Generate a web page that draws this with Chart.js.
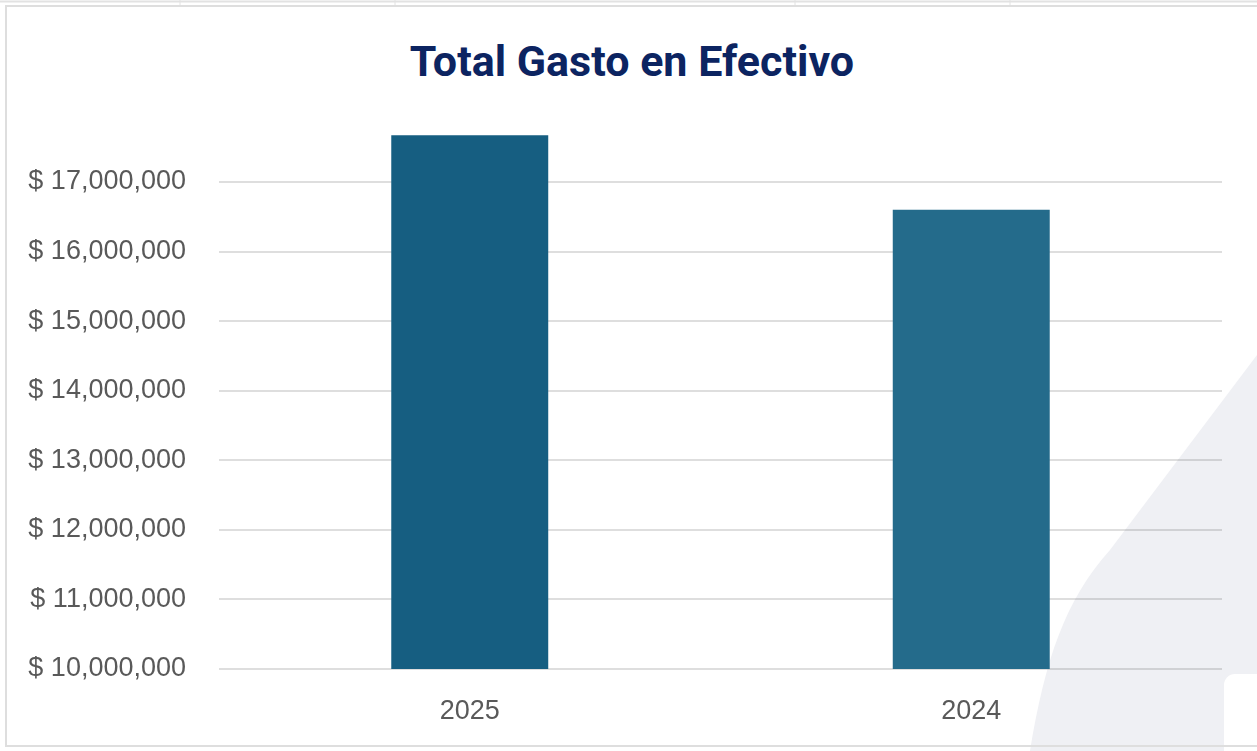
<!DOCTYPE html>
<html>
<head>
<meta charset="utf-8">
<script src="https://cdn.jsdelivr.net/npm/chart.js@4/dist/chart.umd.min.js"></script>
<style>
  html, body { margin: 0; padding: 0; background: #fff; overflow: hidden; }
  #sheet { position: absolute; left: 0; top: 0; width: 1257px; height: 751px; }
  #frame { position: absolute; left: 5px; top: 5px; width: 1260px; height: 742px; border: 2px solid #dedede; box-sizing: border-box; }
  #chart { position: absolute; left: 0; top: 0; }
  #title {
    position: absolute; left: 0; top: 35px; width: 1264px; margin: 0;
    text-align: center; font: bold 43px/52px Roboto, sans-serif; color: #0c2461;
  }
</style>
</head>
<body>
<svg id="sheet" width="1257" height="751">
  <line x1="0" y1="1.5" x2="1257" y2="1.5" stroke="#e2e2e2" stroke-width="2"/>
  <line x1="180" y1="0" x2="180" y2="5" stroke="#e2e2e2"/>
  <line x1="395" y1="0" x2="395" y2="5" stroke="#e2e2e2"/>
  <line x1="795" y1="0" x2="795" y2="5" stroke="#e2e2e2"/>
  <line x1="1010" y1="0" x2="1010" y2="5" stroke="#e2e2e2"/>
  <path d="M1030,751 C1045,660 1065,600 1110,550 L1257,355 L1257,751 Z" fill="#eff0f4"/>
  <rect x="1224" y="674" width="60" height="100" rx="11" fill="#ffffff"/>
</svg>
<div id="frame"></div>
<h1 id="title">Total Gasto en Efectivo</h1>
<canvas id="chart" width="1257" height="751"></canvas>
<script>
'use strict';

let canvasElem = document.getElementById('chart');

// data
let categories = ['2025', '2024'];
let gastoEfectivo = [17670000, 16600000];
let barColors = ['#165e81', '#246b8b'];
let yTickValues = [10000000, 11000000, 12000000, 13000000, 14000000, 15000000, 16000000, 17000000];

function renderChart() {
    let chartObj = {
        type: 'bar',
        data: {
            labels: categories,
            datasets: [{
                label: 'Total Gasto en Efectivo',
                data: gastoEfectivo,
                backgroundColor: barColors,
                borderWidth: 0,
                barPercentage: 0.313,
                categoryPercentage: 1
            }]
        },
        options: {
            responsive: false,
            animation: false,
            devicePixelRatio: 1,
            layout: { padding: { left: 0, right: 35, top: 120, bottom: 0 } },
            scales: {
                x: {
                    grid: { display: false },
                    border: { display: false },
                    ticks: {
                        color: '#595959',
                        padding: 18,
                        font: { family: '"Liberation Sans", Arial, sans-serif', size: 27 }
                    },
                    afterFit: function (scale) { scale.height = 82; }
                },
                y: {
                    min: 10000000,
                    max: 17890000,
                    border: { display: false },
                    grid: {
                        color: 'rgba(0,0,0,0.13)',
                        lineWidth: 2,
                        drawTicks: false
                    },
                    ticks: {
                        color: '#595959',
                        padding: 33,
                        font: { family: '"Liberation Sans", Arial, sans-serif', size: 27 },
                        callback: function (value) {
                            return '$ ' + value.toLocaleString('en-US');
                        }
                    },
                    afterBuildTicks: function (scale) {
                        scale.ticks = yTickValues.map(function (v) { return { value: v }; });
                    },
                    afterFit: function (scale) { scale.width = 219; }
                }
            },
            plugins: {
                legend: { display: false },
                tooltip: { enabled: false },
                title: { display: false }
            }
        }
    };
    new Chart(canvasElem, chartObj);
}

renderChart();
</script>
</body>
</html>
